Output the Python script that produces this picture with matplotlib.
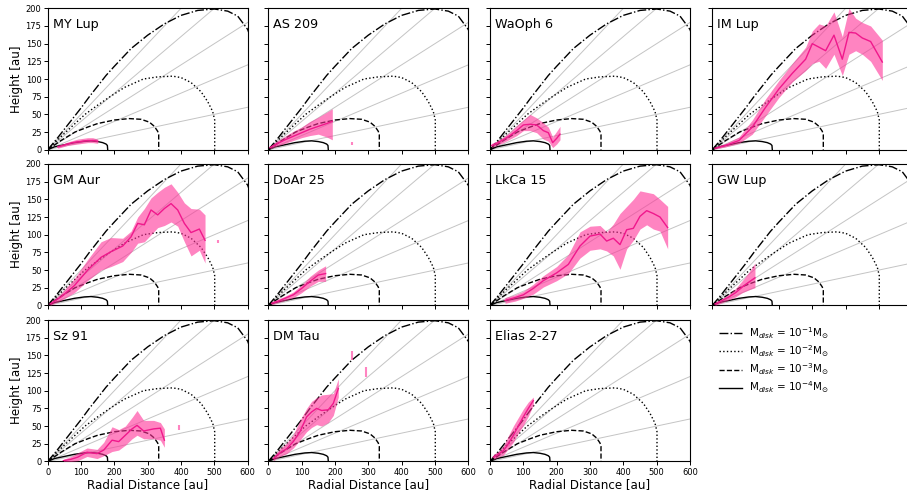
import numpy as np
import matplotlib
matplotlib.use("Agg")
import matplotlib.pyplot as plt

# ---- model curves (disk mass contours) ----
dd_r = [0, 25, 50, 75, 100, 125, 150, 175, 200, 250, 300, 350, 400, 450, 500, 540, 570, 600, 615]
dd_z = [0, 14, 29, 44, 59, 75, 90, 105, 118, 143, 162, 178, 190, 197, 199, 196, 189, 170, 150]
dot_r = [0, 50, 112, 150, 187, 230, 287, 330, 375, 400, 430, 460, 480, 495, 501, 501]
dot_z = [0, 23, 50, 63, 75, 88, 100, 103, 104, 102, 95, 82, 68, 54, 42, 0]
dsh_r = [0, 40, 82, 120, 150, 200, 245, 280, 305, 320, 330, 333, 333]
dsh_z = [0, 13, 25, 32, 37, 42, 44, 43, 39, 33, 26, 21, 0]
sol_r = [0, 20, 50, 80, 110, 130, 150, 165, 175, 179, 180]
sol_z = [0, 4, 7, 10, 12, 12.5, 11.5, 10, 8, 6, 0]
mass_labels = [r'M$_{disk}$ = 10$^{-1}$M$_{\odot}$', r'M$_{disk}$ = 10$^{-2}$M$_{\odot}$',
               r'M$_{disk}$ = 10$^{-3}$M$_{\odot}$', r'M$_{disk}$ = 10$^{-4}$M$_{\odot}$']
slopes = [0.1, 0.2, 0.3, 0.4, 0.5]

# ---- emission surfaces ----
names = ["MY Lup", "AS 209", "WaOph 6", "IM Lup", "GM Aur", "DoAr 25",
         "LkCa 15", "GW Lup", "Sz 91", "DM Tau", "Elias 2-27"]

mylup_r = [30, 45, 60, 75, 90, 105, 120, 135, 150]
mylup_z = [4, 6, 8, 10, 11, 12, 13, 13, 12]
mylup_lo = [2, 4, 6, 7, 8, 9, 10, 10, 9]
mylup_hi = [6, 8, 11, 13, 15, 16, 17, 17, 15]

as209_r = [5, 25, 50, 75, 100, 125, 150, 175, 192]
as209_z = [3, 8, 14, 19, 24, 29, 33, 37, 40]
as209_lo = [1, 5, 9, 13, 17, 20, 22, 18, 14]
as209_hi = [5, 12, 19, 26, 32, 40, 46, 53, 58]

waoph_r = [5, 20, 40, 60, 80, 100, 120, 140, 160, 175, 188, 200, 210]
waoph_z = [6, 9, 14, 20, 27, 35, 36, 35, 27, 24, 10, 16, 22]
waoph_lo = [3, 6, 10, 15, 20, 27, 27, 24, 15, 12, 3, 8, 14]
waoph_hi = [9, 12, 18, 25, 34, 42, 50, 45, 38, 32, 18, 26, 33]

imlup_r = [8, 40, 80, 120, 160, 200, 240, 280, 300, 320, 340, 365, 390, 410, 430, 450, 475, 510]
imlup_z = [2, 6, 13, 32, 60, 86, 108, 128, 150, 145, 140, 162, 128, 166, 165, 158, 153, 124]
imlup_lo = [1, 4, 9, 22, 48, 74, 96, 112, 122, 125, 115, 135, 105, 135, 140, 135, 125, 98]
imlup_hi = [4, 9, 18, 42, 72, 98, 122, 145, 168, 178, 175, 195, 160, 200, 186, 180, 175, 155]

gmaur_r = [7, 40, 80, 120, 160, 190, 225, 250, 270, 290, 310, 330, 350, 370, 390, 410, 430, 455, 472]
gmaur_z = [2, 12, 28, 50, 68, 76, 84, 97, 116, 114, 135, 128, 137, 144, 135, 116, 103, 108, 92]
gmaur_lo = [0, 7, 18, 35, 50, 55, 62, 75, 88, 90, 100, 110, 113, 118, 112, 90, 70, 78, 60]
gmaur_hi = [4, 17, 38, 65, 90, 96, 95, 105, 125, 137, 152, 160, 167, 172, 160, 145, 137, 136, 128]

doar_r = [10, 30, 50, 75, 100, 125, 150, 172]
doar_z = [3, 6, 10, 15, 24, 34, 43, 45]
doar_lo = [1, 4, 7, 11, 18, 27, 34, 34]
doar_hi = [5, 9, 13, 19, 29, 41, 50, 56]

lkca_r = [45, 75, 100, 130, 160, 200, 235, 270, 300, 330, 350, 370, 390, 410, 430, 450, 470, 490, 510, 533]
lkca_z = [7, 11, 15, 24, 35, 46, 58, 84, 98, 101, 91, 95, 86, 107, 109, 126, 134, 130, 125, 110]
lkca_lo = [3, 6, 10, 16, 26, 35, 45, 67, 78, 80, 77, 70, 51, 80, 92, 108, 114, 108, 105, 80]
lkca_hi = [11, 15, 20, 30, 42, 55, 72, 104, 112, 113, 104, 115, 130, 140, 150, 162, 160, 158, 150, 140]

gwlup_r = [8, 30, 50, 70, 90, 110, 128]
gwlup_z = [2, 7, 12, 18, 26, 33, 39]
gwlup_lo = [0, 4, 8, 12, 18, 22, 25]
gwlup_hi = [4, 10, 16, 24, 35, 47, 60]

sz91_r = [47, 70, 90, 118, 148, 168, 193, 213, 233, 253, 268, 288, 318, 338, 350]
sz91_z = [1, 3, 6, 13, 11, 16, 30, 28, 37, 46, 51, 43, 46, 47, 30]
sz91_lo = [0, 0, 1, 7, 4, 8, 14, 16, 23, 32, 37, 32, 32, 30, 20]
sz91_hi = [3, 7, 12, 19, 17, 27, 49, 45, 50, 62, 72, 58, 58, 55, 46]

dmtau_r = [15, 35, 55, 75, 95, 115, 130, 145, 160, 180, 195, 210]
dmtau_z = [4, 12, 18, 28, 42, 63, 70, 75, 72, 73, 82, 103]
dmtau_lo = [1, 7, 11, 19, 30, 42, 48, 52, 50, 55, 65, 91]
dmtau_hi = [7, 18, 26, 38, 58, 75, 85, 90, 94, 95, 96, 117]

elias_r = [10, 25, 40, 55, 70, 85, 100, 115, 130]
elias_z = [6, 10, 15, 25, 37, 50, 63, 75, 86]
elias_lo = [3, 6, 9, 18, 27, 40, 51, 64, 80]
elias_hi = [10, 14, 22, 36, 50, 62, 74, 84, 91]

# isolated points: (panel, r, z_lo, z_hi)
iso_panel = [1, 4, 8, 9, 9]
iso_r = [250, 512, 394, 252, 292]
iso_lo = [7, 88, 44, 143, 120]
iso_hi = [11, 93, 51, 156, 134]

surfaces = [(mylup_r, mylup_z, mylup_lo, mylup_hi), (as209_r, as209_z, as209_lo, as209_hi),
            (waoph_r, waoph_z, waoph_lo, waoph_hi), (imlup_r, imlup_z, imlup_lo, imlup_hi),
            (gmaur_r, gmaur_z, gmaur_lo, gmaur_hi), (doar_r, doar_z, doar_lo, doar_hi),
            (lkca_r, lkca_z, lkca_lo, lkca_hi), (gwlup_r, gwlup_z, gwlup_lo, gwlup_hi),
            (sz91_r, sz91_z, sz91_lo, sz91_hi), (dmtau_r, dmtau_z, dmtau_lo, dmtau_hi),
            (elias_r, elias_z, elias_lo, elias_hi)]

W, H = 907, 496
fig = plt.figure(figsize=(W / 100, H / 100), dpi=100)

col_left = [47.7, 268.3, 490.0, 712.3]
row_top = [8.3, 164.0, 320.0]
ax_w, ax_h = 200.0, 141.4

line_col = '#f0188c'
fill_col = '#ff3399'

for i in range(12):
    row, col = divmod(i, 4)
    rect = [col_left[col] / W, (H - row_top[row] - ax_h) / H, ax_w / W, ax_h / H]
    ax = fig.add_axes(rect)
    if i == 11:
        ax.axis('off')
        handles = [plt.Line2D([], [], color='k', lw=1, ls=ls) for ls in ['-.', ':', '--', '-']]
        fig.legend(handles, mass_labels, loc='upper left',
                   bbox_to_anchor=(719 / W, (H - 325) / H), borderaxespad=0, borderpad=0,
                   frameon=False, fontsize=7.5, handlelength=2.2, handletextpad=0.7,
                   labelspacing=0.25)
        continue

    for s in slopes:
        ax.plot([0, 700], [0, 700 * s], color='#c4c4c4', lw=0.7, zorder=1)
    ax.plot(dd_r, dd_z, color='k', ls='-.', lw=1, zorder=2)
    ax.plot(dot_r, dot_z, color='k', ls=':', lw=1, zorder=2)
    ax.plot(dsh_r, dsh_z, color='k', ls='--', lw=1, zorder=2)
    ax.plot(sol_r, sol_z, color='k', ls='-', lw=1, zorder=2)

    r, z, lo, hi = surfaces[i]
    ax.fill_between(r, lo, hi, color=fill_col, alpha=0.6, lw=0, zorder=3)
    ax.plot(r, z, color=line_col, lw=1, zorder=4)
    for p, rr, a, b in zip(iso_panel, iso_r, iso_lo, iso_hi):
        if p == i:
            ax.vlines(rr, a, b, color=fill_col, alpha=0.6, lw=1.5, zorder=3)

    ax.text(0.025, 0.93, names[i], transform=ax.transAxes, fontsize=9.2, va='top', ha='left')
    ax.set_xlim(0, 600)
    ax.set_ylim(0, 200)
    ax.set_xticks(np.arange(0, 601, 100))
    ax.set_yticks(np.arange(0, 201, 25))
    ax.tick_params(labelsize=6, length=3, width=0.7, pad=1.5)
    for sp in ax.spines.values():
        sp.set_linewidth(0.8)
    if col == 0:
        ax.set_ylabel('Height [au]', fontsize=8.6, labelpad=2)
    else:
        ax.set_yticklabels([])
    if row == 2:
        ax.set_xlabel('Radial Distance [au]', fontsize=8.6, labelpad=1)
    else:
        ax.set_xticklabels([])

fig.savefig('out.png', dpi=100)
